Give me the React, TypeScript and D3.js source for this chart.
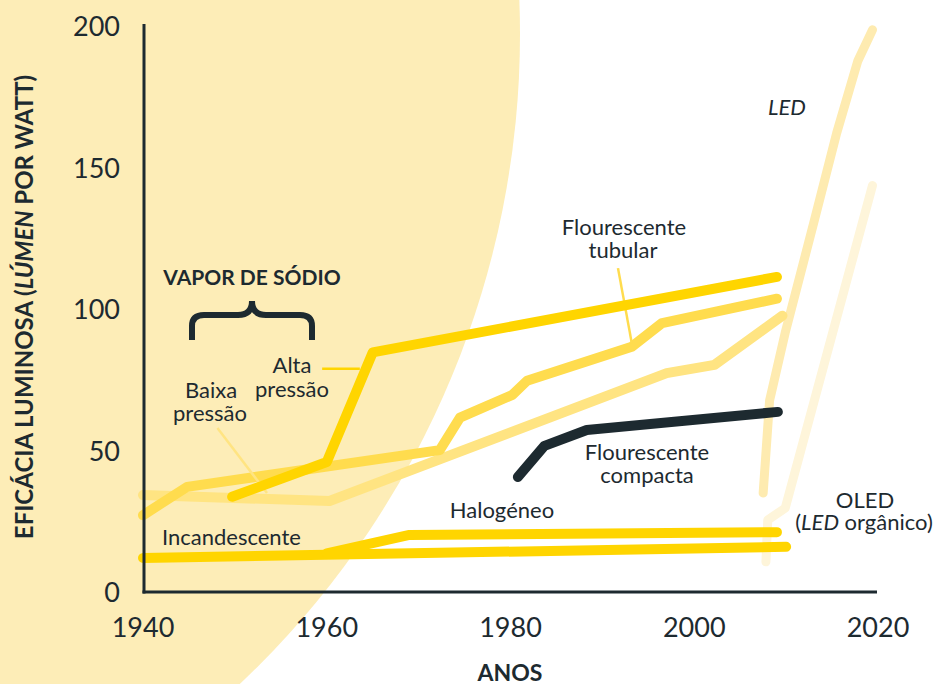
import React from "react";
import * as d3 from "d3";

const W = 938;
const H = 684;

const xTicks = [1940, 1960, 1980, 2000, 2020];
const yTicks = [0, 50, 100, 150, 200];

const incandescentYears = [1940, 2010];
const incandescentValues = [12.4, 16.3];

const halogenYears = [1960, 1969, 2009];
const halogenValues = [14, 20.5, 21.5];

const sodiumHighYears = [1949.7, 1960, 1965, 2009];
const sodiumHighValues = [34, 46.3, 85, 111.7];

const tubularYears = [1940, 1944.8, 1972.3, 1974.5, 1980.2, 1981.8, 1993.2, 1996.5, 2009];
const tubularValues = [27.5, 37.5, 50.5, 62, 70, 75, 87, 95.4, 104];

const sodiumLowYears = [1940, 1960.3, 1997, 2002.2, 2009.6];
const sodiumLowValues = [34.6, 32.5, 77.7, 80.6, 98];

const compactYears = [1980.8, 1983.7, 1988.3, 2009.1];
const compactValues = [41, 52, 57.6, 64];

const ledYears = [2007.5, 2008.2, 2009.9, 2013.1, 2015.5, 2017.8, 2019.4];
const ledValues = [35.3, 68, 92, 132, 162.5, 188, 199];

const oledYears = [2007.8, 2008, 2009.9, 2019.4];
const oledValues = [11, 25.8, 30, 144];

const DARK = "#1d2a30";
const GOLD = "#FFD500";
const TUB = "#FFDC4E";
const LOW = "#FFE482";
const LEDC = "#FEEBB0";
const OLEDC = "#FEF5DA";
const BG = "#FDEDB7";
const FONT = "Lato, 'Open Sans', sans-serif";

const x = d3.scaleLinear().domain([1940, 2020]).range([143, 878]);
const y = d3.scaleLinear().domain([0, 200]).range([593, 27]);

const line = d3
  .line<[number, number]>()
  .x((d) => x(d[0]))
  .y((d) => y(d[1]));

function pts(years: number[], values: number[]): [number, number][] {
  return years.map((yr, i) => [yr, values[i]]);
}

const series = [
  { ys: ledYears, vs: ledValues, color: LEDC, w: 9 },
  { ys: oledYears, vs: oledValues, color: OLEDC, w: 9 },
  { ys: sodiumLowYears, vs: sodiumLowValues, color: LOW, w: 10 },
  { ys: tubularYears, vs: tubularValues, color: TUB, w: 10 },
];

const seriesTop = [
  { ys: sodiumHighYears, vs: sodiumHighValues, color: GOLD, w: 10 },
  { ys: incandescentYears, vs: incandescentValues, color: GOLD, w: 10 },
  { ys: halogenYears, vs: halogenValues, color: GOLD, w: 10 },
  { ys: compactYears, vs: compactValues, color: DARK, w: 10 },
];

const leaders = [
  { a: [1948.1, 58.3], b: [1953.5, 35.3], color: LOW },
  { a: [1959.5, 79.2], b: [1963.6, 79.2], color: GOLD },
  { a: [1991.7, 114.8], b: [1993.2, 88.3], color: TUB },
];

export default function App() {
  const bracePath =
    "M192,340 V326 Q192,315 204,315 H238 Q252,315 252,301 Q252,315 266,315 H300 Q312,315 312,326 V340";
  return (
    <svg
      width={W}
      height={H}
      style={{ position: "absolute", left: 0, top: 0, display: "block", background: "#fff" }}
      fontFamily={FONT}
    >
      <circle cx={-374} cy={34} r={894} fill={BG} />

      {series.map((s, i) => (
        <path
          key={"s" + i}
          d={line(pts(s.ys, s.vs)) || ""}
          fill="none"
          stroke={s.color}
          strokeWidth={s.w}
          strokeLinecap="round"
          strokeLinejoin="round"
        />
      ))}

      {leaders.map((l, i) => (
        <line
          key={"l" + i}
          x1={x(l.a[0])}
          y1={y(l.a[1])}
          x2={x(l.b[0])}
          y2={y(l.b[1])}
          stroke={l.color}
          strokeWidth={2.5}
        />
      ))}

      {seriesTop.map((s, i) => (
        <path
          key={"t" + i}
          d={line(pts(s.ys, s.vs)) || ""}
          fill="none"
          stroke={s.color}
          strokeWidth={s.w}
          strokeLinecap="round"
          strokeLinejoin="round"
        />
      ))}

      {/* axes */}
      <line x1={144} y1={24} x2={144} y2={593.5} stroke={DARK} strokeWidth={3} />
      <line x1={142.5} y1={592} x2={877} y2={592} stroke={DARK} strokeWidth={3} />

      {yTicks.map((t) => (
        <text key={"y" + t} x={120} y={y(t)} dy="0.35em" textAnchor="end" fontSize={27} fill={DARK}>
          {t}
        </text>
      ))}
      {xTicks.map((t) => (
        <text key={"x" + t} x={x(t)} y={637} textAnchor="middle" fontSize={27} fill={DARK}>
          {t}
        </text>
      ))}

      <text
        transform="translate(33,307) rotate(-90)"
        textAnchor="middle"
        fontSize={24}
        fontWeight="bold"
        fill={DARK}
      >
        EFICÁCIA LUMINOSA (<tspan fontStyle="italic">LÚMEN</tspan> POR WATT)
      </text>
      <text x={510} y={681} textAnchor="middle" fontSize={23} fontWeight="bold" fill={DARK}>
        ANOS
      </text>

      {/* annotations */}
      <text x={252} y={285} textAnchor="middle" fontSize={21} fontWeight="bold" fill={DARK}>
        VAPOR DE SÓDIO
      </text>
      <path d={bracePath} fill="none" stroke={DARK} strokeWidth={6} />

      <g fontSize={22} fill={DARK} textAnchor="middle">
        <text x={292} y={373}>Alta</text>
        <text x={292} y={397}>pressão</text>
        <text x={211} y={398}>Baixa</text>
        <text x={210} y={421}>pressão</text>
        <text x={162} y={545} textAnchor="start">Incandescente</text>
        <text x={502} y={518}>Halogéneo</text>
        <text x={647} y={460}>Flourescente</text>
        <text x={647} y={483}>compacta</text>
        <text x={624} y={235}>Flourescente</text>
        <text x={623} y={258}>tubular</text>
        <text x={787} y={115} fontStyle="italic">LED</text>
        <text x={865} y={508}>OLED</text>
        <text x={864} y={530}>
          (<tspan fontStyle="italic">LED</tspan> orgânico)
        </text>
      </g>
    </svg>
  );
}
